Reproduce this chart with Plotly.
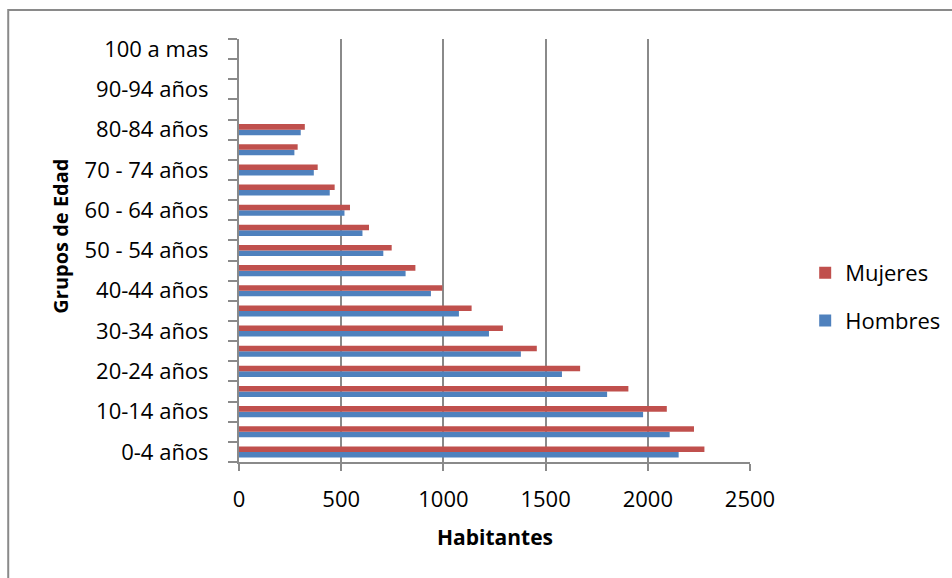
import plotly.graph_objects as go

# Age groups (bottom to top) and population counts per sex
grupos = ["0-4 años", "5-9 años", "10-14 años", "15-19 años", "20-24 años",
          "25-29 años", "30-34 años", "35-39 años", "40-44 años", "45-49 años",
          "50 - 54 años", "55 - 59 años", "60 - 64 años", "65 - 69 años",
          "70 - 74 años", "75 - 79 años", "80-84 años", "85-89 años",
          "90-94 años", "95-99 años", "100 a mas"]
hombres = [2151, 2107, 1977, 1801, 1580, 1379, 1223, 1076, 939, 815, 706,
           604, 516, 444, 366, 271, 302, 0, 0, 0, 0]
mujeres = [2277, 2226, 2093, 1905, 1669, 1457, 1291, 1138, 995, 863, 747,
           636, 543, 468, 385, 287, 322, 0, 0, 0, 0]
x_ticks = [0, 500, 1000, 1500, 2000, 2500]

FONT = "Open Sans"
GRIS = "#8a8a8a"
pos = list(range(len(grupos)))

fig = go.Figure()
fig.add_trace(go.Bar(y=pos, x=hombres, orientation="h", name="Hombres",
                     marker=dict(color="#4F81BD", line=dict(width=0)),
                     legendgroup="h", legendrank=2))
fig.add_trace(go.Bar(y=pos, x=mujeres, orientation="h", name="Mujeres",
                     marker=dict(color="#C0504D", line=dict(width=0)),
                     legendgroup="m", legendrank=1))

fig.update_layout(
    width=952, height=578,
    margin=dict(l=238.5, r=202, t=39, b=116, autoexpand=False),
    paper_bgcolor="white", plot_bgcolor="white",
    barmode="group", bargap=0.45, bargroupgap=0,
    font=dict(family=FONT, size=22, color="black"),
    showlegend=True,
    legend=dict(x=1.108, y=(462 - 297) / 423, xanchor="left", yanchor="middle",
                traceorder="grouped", tracegroupgap=16,
                font=dict(family=FONT, size=22, color="black"),
                bgcolor="rgba(0,0,0,0)"),
    xaxis=dict(range=[0, 2500], tickvals=x_ticks,
               showgrid=True, gridcolor=GRIS, gridwidth=2,
               showline=True, linecolor=GRIS, linewidth=2,
               ticks="outside", ticklen=7, tickcolor=GRIS, tickwidth=2,
               ticklabelstandoff=10, zeroline=False,
               tickfont=dict(family=FONT, size=22, color="black")),
    yaxis=dict(range=[-0.5, len(grupos) - 0.5],
               tickvals=pos[::2], ticktext=grupos[::2],
               showgrid=False, zeroline=False,
               showline=True, linecolor=GRIS, linewidth=2,
               ticks="", ticklabelstandoff=24,
               minor=dict(tickvals=[p - 0.5 for p in range(len(grupos) + 1)],
                          ticks="outside", ticklen=9, tickcolor=GRIS,
                          tickwidth=2, showgrid=False),
               tickfont=dict(family=FONT, size=22, color="black")),
    annotations=[
        dict(text="<b>Habitantes</b>", xref="paper", yref="paper",
             x=0.5, y=-75 / 423, xanchor="center", yanchor="middle",
             showarrow=False, font=dict(family=FONT, size=21, color="black")),
        dict(text="<b>Grupos de Edad</b>", xref="paper", yref="paper",
             x=(59 - 238.5) / 511.5, y=(462 - 236) / 423,
             xanchor="center", yanchor="middle",
             textangle=-90, showarrow=False,
             font=dict(family=FONT, size=20, color="black")),
    ],
    shapes=[
        dict(type="rect", xref="paper", yref="paper",
             x0=(7.5 - 238.5) / 511.5, x1=1.5,
             y0=-0.5, y1=(462 - 10) / 423,
             line=dict(color=GRIS, width=2), fillcolor="rgba(0,0,0,0)",
             layer="below"),
    ],
)

fig.write_html("out.html")
